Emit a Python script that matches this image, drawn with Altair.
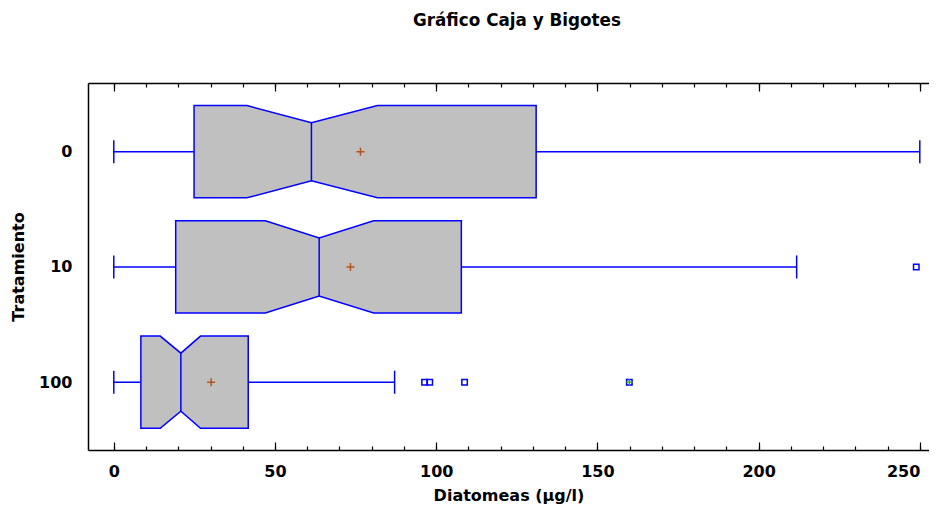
import json
import altair as alt
import pandas as pd

# ---- data ----
categories = ["0", "10", "100"]
mins = [0.0, 0.0, 0.0]
q1s = [24.9, 19.2, 8.4]
notch_lo = [41.3, 47.0, 14.4]
medians = [61.3, 63.7, 20.8]
notch_hi = [81.8, 80.6, 26.9]
q3s = [131.0, 107.8, 41.7]
maxs = [250.0, 211.8, 87.1]
means = [76.5, 73.4, 30.2]

outlier_cat = ["10", "100", "100", "100", "100"]
outlier_val = [248.9, 96.4, 98.0, 108.8, 159.9]
outlier_far = [False, False, False, False, True]

x_ticks_major = [0, 50, 100, 150, 200, 250]
x_ticks_minor = list(range(0, 251, 10))

# ---- styling ----
BOX_H = 0.40      # half height of box (in category units)
NOTCH_H = 0.252   # half height at the notch
CAP_H = 0.10      # half height of whisker caps
BLUE = "#0000ff"
FONT = "DejaVu Sans"
W, H = 841, 367

idx = {c: i for i, c in enumerate(categories)}

# notched box outline as area rows
box_rows = []
for i, c in enumerate(categories):
    for xv, hh in [(q1s[i], BOX_H), (notch_lo[i], BOX_H), (medians[i], NOTCH_H),
                   (notch_hi[i], BOX_H), (q3s[i], BOX_H)]:
        box_rows.append({"cat": c, "x": xv, "lo": i - hh, "hi": i + hh})
box_df = pd.DataFrame(box_rows)

stats_df = pd.DataFrame({
    "cat": categories,
    "pos": [idx[c] for c in categories],
    "min": mins, "q1": q1s, "med": medians, "q3": q3s, "max": maxs, "mean": means,
})
stats_df["mlo"] = stats_df["pos"] - NOTCH_H
stats_df["mhi"] = stats_df["pos"] + NOTCH_H

whisk_rows = []
cap_rows = []
for i, c in enumerate(categories):
    whisk_rows.append({"cat": c, "pos": i, "a": mins[i], "b": q1s[i]})
    whisk_rows.append({"cat": c, "pos": i, "a": q3s[i], "b": maxs[i]})
    for xv in (mins[i], maxs[i]):
        cap_rows.append({"cat": c, "x": xv, "lo": i - CAP_H, "hi": i + CAP_H})
whisk_df = pd.DataFrame(whisk_rows)
cap_df = pd.DataFrame(cap_rows)

out_df = pd.DataFrame({
    "cat": outlier_cat,
    "pos": [idx[c] for c in outlier_cat],
    "val": outlier_val,
    "far": outlier_far,
})
far_df = out_df[out_df["far"]]

xscale = alt.Scale(domain=[-8, 252.85], nice=False, zero=False)
yscale = alt.Scale(domain=[-0.596, 2.588], nice=False, zero=False, reverse=True)
label_expr = json.dumps(categories) + "[datum.value]"
yaxis = alt.Axis(
    title="Tratamiento", values=list(range(len(categories))), labelExpr=label_expr,
    ticks=False, grid=False, domain=True, domainColor="#000", domainWidth=1.5,
    labelFont=FONT, labelFontSize=16, labelFontWeight="bold", labelColor="#000",
    labelPadding=16, titleFont=FONT, titleFontSize=16, titleFontWeight="bold",
    titleColor="#000", titlePadding=12,
)


def Y(field):
    return alt.Y(field, type="quantitative", scale=yscale, axis=yaxis)


def tick_axis(orient, values, size, domain=False):
    return alt.Axis(
        orient=orient, offset=-H, values=values, labels=False, title=None,
        grid=False, ticks=True, tickSize=size, tickColor="#000", tickWidth=1.2,
        domain=domain, domainColor="#000", domainWidth=1.5,
    )


main_x_axis = alt.Axis(
    orient="bottom", values=x_ticks_major, ticks=False, tickSize=0, grid=False,
    domain=True, domainColor="#000", domainWidth=1.5, labelFlush=15,
    labelFont=FONT, labelFontSize=16, labelFontWeight="bold", labelColor="#000",
    labelPadding=13, title="Diatomeas (µg/l)", titleFont=FONT, titleFontSize=16,
    titleFontWeight="bold", titleColor="#000", titlePadding=8,
)

boxes = alt.Chart(box_df).mark_area(
    orient="vertical", fill="#c0c0c0", stroke=BLUE, strokeWidth=1.5, opacity=1
).encode(
    x=alt.X("x:Q", scale=xscale, axis=main_x_axis),
    y=Y("lo"), y2="hi", detail="cat:N",
)

med = alt.Chart(stats_df).mark_rule(color=BLUE, strokeWidth=1.5).encode(
    x=alt.X("med:Q", scale=xscale, axis=tick_axis("top", x_ticks_major, 8)),
    y=Y("mlo"), y2="mhi",
)

whisk = alt.Chart(whisk_df).mark_rule(color=BLUE, strokeWidth=1.5).encode(
    x=alt.X("a:Q", scale=xscale, axis=tick_axis("top", x_ticks_minor, 4)),
    x2="b", y=Y("pos"),
)

caps = alt.Chart(cap_df).mark_rule(color=BLUE, strokeWidth=1.5).encode(
    x=alt.X("x:Q", scale=xscale, axis=tick_axis("bottom", x_ticks_major, 8, domain=True)),
    y=Y("lo"), y2="hi",
)

mean_pts = alt.Chart(stats_df).mark_point(
    shape="M-1,0L1,0M0,-1L0,1", filled=False, color="#b5521b", strokeWidth=1.5,
    size=64, opacity=1,
).encode(
    x=alt.X("mean:Q", scale=xscale, axis=tick_axis("bottom", x_ticks_minor, 4)),
    y=Y("pos"),
)

outs = alt.Chart(out_df).mark_point(
    shape="square", filled=False, color=BLUE, strokeWidth=1.5, size=30, opacity=1
).encode(
    x=alt.X("val:Q", scale=xscale, axis=None),
    y=Y("pos"),
)

far_plus = alt.Chart(far_df).mark_point(
    shape="M-1,0L1,0M0,-1L0,1", filled=False, color="#22aa22", strokeWidth=1.2,
    size=40, opacity=1,
).encode(
    x=alt.X("val:Q", scale=xscale, axis=None),
    y=Y("pos"),
)

chart = alt.layer(boxes, med, whisk, caps, mean_pts, outs, far_plus).resolve_axis(
    x="independent"
).properties(
    width=W, height=H,
    title=alt.TitleParams(
        "Gráfico Caja y Bigotes", font=FONT, fontSize=16.8, fontWeight="bold",
        color="#000", anchor="start", frame="group", offset=53, dx=325,
    ),
    autosize=alt.AutoSizeParams(type="none"),
    padding={"left": 80, "top": 75, "right": 0, "bottom": 55},
).configure_view(stroke=None)

chart.save("out.html", embed_options={"renderer": "svg", "actions": False})
